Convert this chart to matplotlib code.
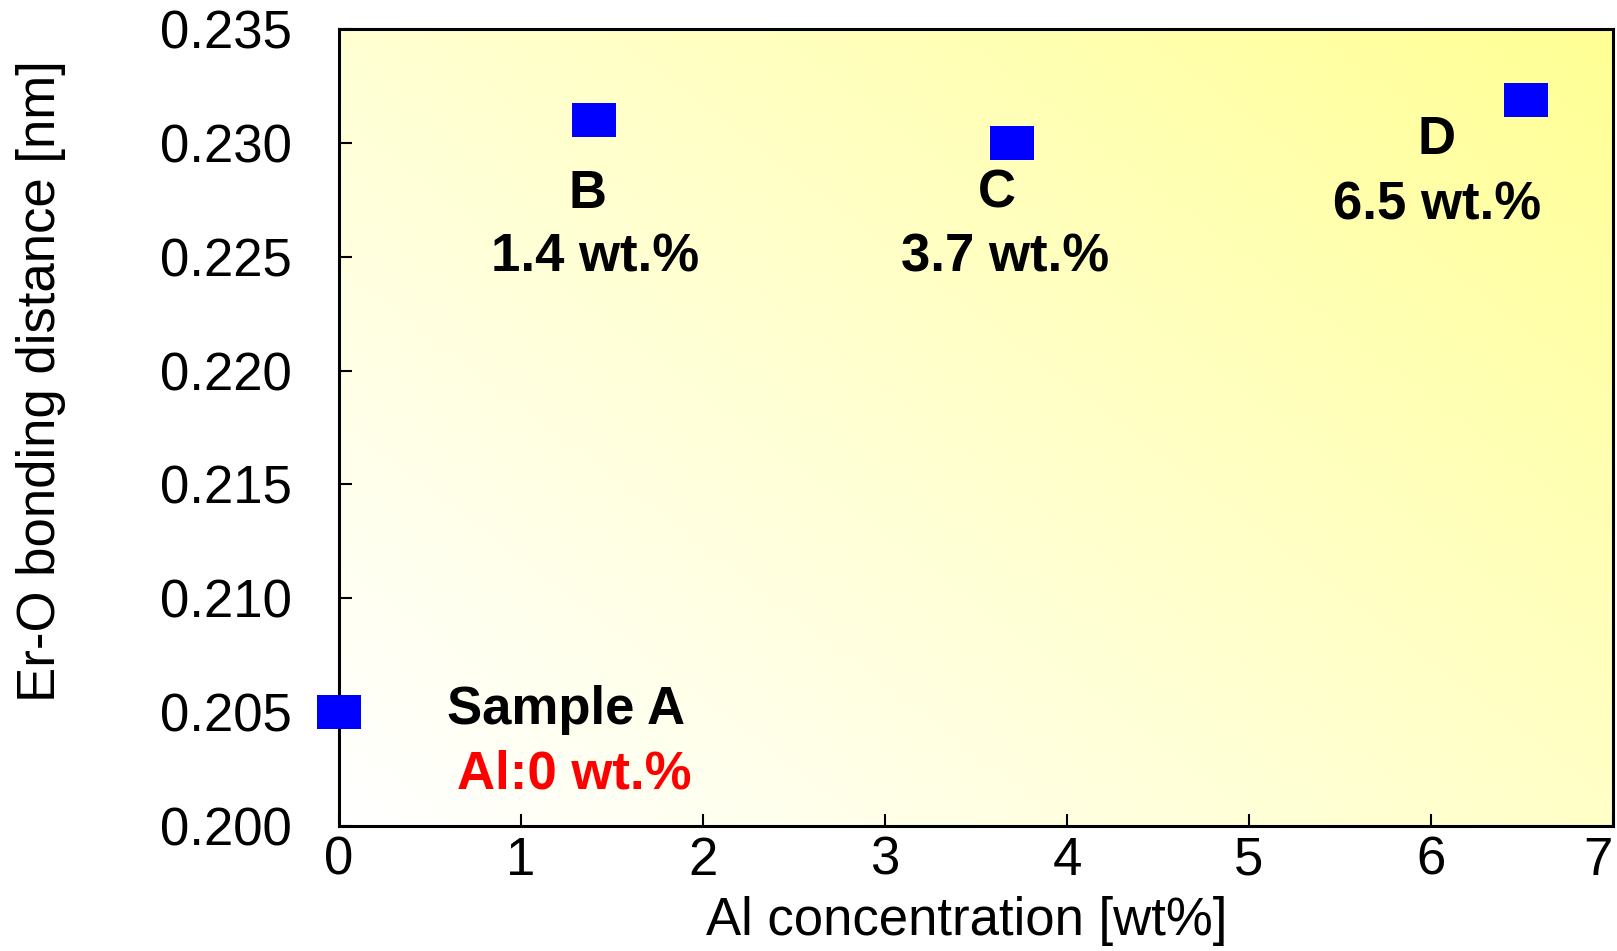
import numpy as np
import matplotlib
matplotlib.use("Agg")
import matplotlib.pyplot as plt

# --- DATA ---
samples = ["A", "B", "C", "D"]
al_wt = [0.0, 1.4, 3.7, 6.52]          # Al concentration [wt%]
ero_dist = [0.205, 0.231, 0.230, 0.2319]  # Er-O bonding distance [nm]
conc_labels = ["Al:0 wt.%", "1.4 wt.%", "3.7 wt.%", "6.5 wt.%"]
xticks = [0, 1, 2, 3, 4, 5, 6, 7]
yticks = [0.200, 0.205, 0.210, 0.215, 0.220, 0.225, 0.230, 0.235]

plt.rcParams['font.family'] = ['Liberation Sans', 'DejaVu Sans']
FS = 38

fig = plt.figure(figsize=(16.17, 9.51), dpi=100)
ax = fig.add_axes([0.2097, 0.1314, 0.7878, 0.8381])
ax.set_xlim(0, 7)
ax.set_ylim(0.200, 0.235)

# --- background gradient: white (lower left) -> yellow (upper right) ---
u, v = np.meshgrid(np.linspace(0, 1, 300), np.linspace(0, 1, 200))
t = np.clip((0.55 * u + 0.45 * v), 0, 1) ** 1.1
yellow = np.array([1.0, 1.0, 0.58])
white = np.array([1.0, 1.0, 1.0])
img = white[None, None, :] * (1 - t[..., None]) + yellow[None, None, :] * t[..., None]
ax.imshow(img, extent=[0, 7, 0.200, 0.235], origin='lower', aspect='auto',
          interpolation='bilinear', zorder=0)

# --- markers (slightly wide rectangles) ---
rect = [(-1, -0.81), (1, -0.81), (1, 0.81), (-1, 0.81), (-1, -0.81)]
ax.plot(al_wt, ero_dist, linestyle='none', marker=rect, markersize=31,
        color='#0000ff', markeredgewidth=0, clip_on=False, zorder=5)

# --- annotations ---
dy = -0.00013
ax.text(1.25, 0.20522 + dy, "Sample " + samples[0], fontsize=FS, fontweight='bold',
        ha='center', va='center')
ax.text(1.29, 0.20241 + dy, conc_labels[0], fontsize=FS, fontweight='bold',
        color='#ff0000', ha='center', va='center')
ax.text(1.363, 0.22789 + dy, samples[1], fontsize=FS, fontweight='bold', ha='center', va='center')
ax.text(1.407, 0.22508 + dy, conc_labels[1], fontsize=FS, fontweight='bold', ha='center', va='center')
ax.text(3.615, 0.22789 + dy, samples[2], fontsize=FS, fontweight='bold', ha='center', va='center')
ax.text(3.659, 0.22508 + dy, conc_labels[2], fontsize=FS, fontweight='bold', ha='center', va='center')
ax.text(6.033, 0.23026 + dy, samples[3], fontsize=FS, fontweight='bold', ha='center', va='center')
ax.text(6.033, 0.22740 + dy, conc_labels[3], fontsize=FS, fontweight='bold', ha='center', va='center')

# --- axes styling ---
ax.set_xticks(xticks)
ax.set_yticks(yticks)
ax.set_yticklabels([f"{y:.3f}" for y in yticks])
ax.tick_params(direction='in', length=9, width=1.5, labelsize=FS)
ax.tick_params(axis='y', pad=34)
ax.tick_params(axis='x', pad=7)
xlabs = ax.get_xticklabels()
xlabs[-1].set_horizontalalignment('right')
xlabs[0].set_x(0.05)
for s in ax.spines.values():
    s.set_linewidth(2.2)
    s.set_zorder(4)

ax.text(-0.234, 0.5577, "Er-O bonding distance [nm]", fontsize=FS, rotation=90,
        ha='center', va='center', transform=ax.transAxes)
ax.text(0.4925, -0.119, "Al concentration [wt%]", fontsize=FS,
        ha='center', va='center', transform=ax.transAxes)

fig.savefig("out.png", dpi=100)
